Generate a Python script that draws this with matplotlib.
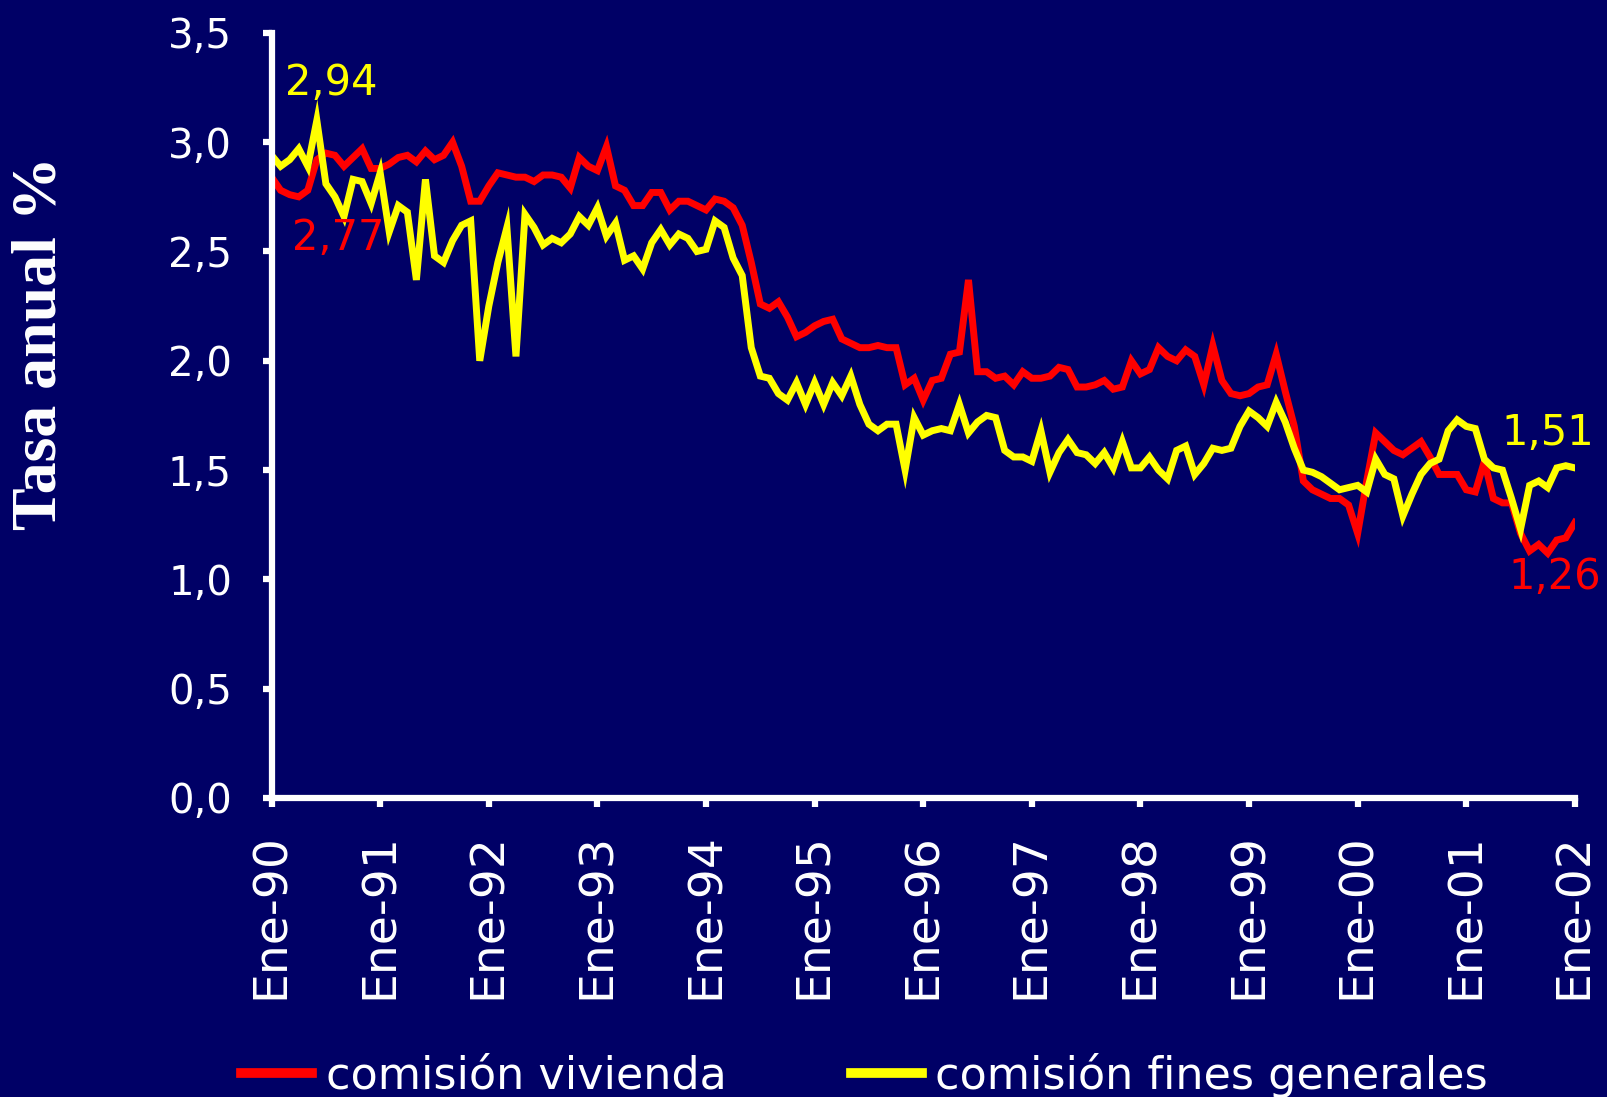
import numpy as np
import matplotlib
matplotlib.use('Agg')
import matplotlib.pyplot as plt

# monthly series, Ene-90 .. Ene-02
vivienda = [2.84, 2.78, 2.76, 2.75, 2.78, 2.92, 2.95, 2.94, 2.89, 2.93, 2.97, 2.88,
            2.88, 2.90, 2.93, 2.94, 2.91, 2.96, 2.92, 2.94, 3.00, 2.89, 2.73, 2.73,
            2.80, 2.86, 2.85, 2.84, 2.84, 2.82, 2.85, 2.85, 2.84, 2.79, 2.93, 2.89,
            2.87, 2.98, 2.80, 2.78, 2.71, 2.71, 2.77, 2.77, 2.69, 2.73, 2.73, 2.71,
            2.69, 2.74, 2.73, 2.70, 2.62, 2.45, 2.26, 2.24, 2.27, 2.20, 2.11, 2.13,
            2.16, 2.18, 2.19, 2.10, 2.08, 2.06, 2.06, 2.07, 2.06, 2.06, 1.89, 1.92,
            1.82, 1.91, 1.92, 2.03, 2.04, 2.37, 1.95, 1.95, 1.92, 1.93, 1.89, 1.95,
            1.92, 1.92, 1.93, 1.97, 1.96, 1.88, 1.88, 1.89, 1.91, 1.87, 1.88, 2.00,
            1.94, 1.96, 2.06, 2.02, 2.00, 2.05, 2.02, 1.89, 2.07, 1.91, 1.85, 1.84,
            1.85, 1.88, 1.89, 2.03, 1.86, 1.70, 1.45, 1.41, 1.39, 1.37, 1.37, 1.34,
            1.21, 1.45, 1.67, 1.63, 1.59, 1.57, 1.60, 1.63, 1.56, 1.48, 1.48, 1.48,
            1.41, 1.40, 1.54, 1.37, 1.35, 1.35, 1.21, 1.13, 1.16, 1.12, 1.18, 1.19,
            1.26]
fines = [2.94, 2.89, 2.92, 2.97, 2.89, 3.10, 2.81, 2.75, 2.66, 2.83, 2.82, 2.72,
         2.86, 2.59, 2.71, 2.68, 2.37, 2.83, 2.48, 2.45, 2.55, 2.62, 2.64, 2.00,
         2.25, 2.45, 2.61, 2.02, 2.67, 2.61, 2.53, 2.56, 2.54, 2.58, 2.66, 2.62,
         2.70, 2.57, 2.63, 2.46, 2.48, 2.42, 2.54, 2.60, 2.53, 2.58, 2.56, 2.50,
         2.51, 2.64, 2.61, 2.47, 2.39, 2.06, 1.93, 1.92, 1.85, 1.82, 1.90, 1.80,
         1.90, 1.80, 1.90, 1.84, 1.93, 1.80, 1.71, 1.68, 1.71, 1.71, 1.50, 1.74,
         1.66, 1.68, 1.69, 1.68, 1.80, 1.67, 1.72, 1.75, 1.74, 1.59, 1.56, 1.56,
         1.54, 1.68, 1.49, 1.58, 1.64, 1.58, 1.57, 1.53, 1.58, 1.51, 1.63, 1.51,
         1.51, 1.56, 1.50, 1.46, 1.59, 1.61, 1.48, 1.53, 1.60, 1.59, 1.60, 1.70,
         1.77, 1.74, 1.70, 1.81, 1.72, 1.60, 1.50, 1.49, 1.47, 1.44, 1.41, 1.42,
         1.43, 1.40, 1.55, 1.48, 1.46, 1.29, 1.39, 1.48, 1.53, 1.55, 1.68, 1.73,
         1.70, 1.69, 1.55, 1.51, 1.50, 1.37, 1.23, 1.43, 1.45, 1.42, 1.51, 1.52,
         1.51]
years = ['Ene-90', 'Ene-91', 'Ene-92', 'Ene-93', 'Ene-94', 'Ene-95', 'Ene-96',
         'Ene-97', 'Ene-98', 'Ene-99', 'Ene-00', 'Ene-01', 'Ene-02']
yticks = [0.0, 0.5, 1.0, 1.5, 2.0, 2.5, 3.0, 3.5]

bg = '#000066'
fig = plt.figure(figsize=(16.07, 10.97), dpi=100, facecolor=bg)
ax = fig.add_axes([0.169, 0.2726, 0.811, 0.6974], facecolor=bg)

t = np.arange(len(vivienda))
ax.plot(t, vivienda, c='#ff0000', linewidth=5, label='comisión vivienda', solid_joinstyle='miter')
ax.plot(t, fines, c='#ffff00', linewidth=5, label='comisión fines generales', solid_joinstyle='miter')

ax.set_xlim(0, 144)
ax.set_ylim(0, 3.5)
ax.set_xticks(np.arange(0, 145, 12))
ax.set_xticklabels(years, rotation=90, fontsize=34, color='white', family='DejaVu Sans')
ax.set_yticks(yticks)
ax.set_yticklabels([('%.1f' % v).replace('.', ',') for v in yticks], fontsize=29, color='white')
ax.tick_params(axis='both', colors='white', width=4.5, length=6.5, direction='out')
ax.tick_params(axis='y', pad=22)
ax.tick_params(axis='x', pad=19)
for s in ['top', 'right']:
	ax.spines[s].set_visible(False)
for s in ['left', 'bottom']:
	ax.spines[s].set_color('white')
	ax.spines[s].set_linewidth(4.5)

ax.text(1.5, 3.27, '2,94', color='#ffff00', fontsize=30, va='center', ha='left')
ax.text(2.25, 2.56, '2,77', color='#ff0000', fontsize=30, va='center', ha='left')
ax.text(135.9, 1.67, '1,51', color='#ffff00', fontsize=30, va='center', ha='left', clip_on=False)
ax.text(136.7, 1.01, '1,26', color='#ff0000', fontsize=30, va='center', ha='left', clip_on=False)

fig.text(0.0255, 0.687, 'Tasa anual %', rotation=90, fontsize=46, fontweight='bold',
         family='Liberation Serif', color='white', ha='center', va='center')

leg = fig.legend(loc='center', bbox_to_anchor=(0.538, 0.02), ncol=2, frameon=False,
                 fontsize=32, handlelength=1.6, handletextpad=0.3, columnspacing=2.8,
                 borderpad=0)
for txt in leg.get_texts():
	txt.set_color('white')
for h in leg.get_lines():
	h.set_linewidth(7)

fig.savefig('out.png', dpi=100, facecolor=bg)
